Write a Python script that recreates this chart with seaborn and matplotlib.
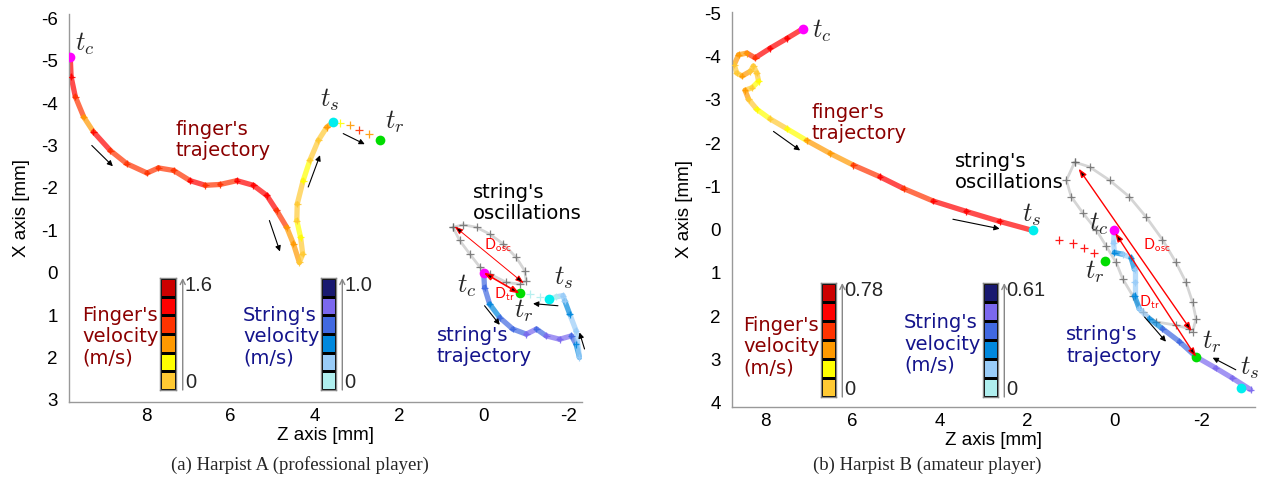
import numpy as np
import pandas as pd
import matplotlib
matplotlib.use('Agg')
import matplotlib.pyplot as plt
from matplotlib.colors import ListedColormap
import seaborn as sns

sns.set_theme(style='white')
plt.rcParams['font.family'] = ['Liberation Sans', 'DejaVu Sans']
plt.rcParams['mathtext.fontset'] = 'cm'

FINGER_COLORS = ['#FFC933', '#FFFF00', '#FF9900', '#FF3300', '#FF0000', '#CC0000']
STRING_COLORS = ['#AFEEEE', '#99CCF8', '#0088DD', '#4169E1', '#7B68EE', '#191970']

# ---------------- Harpist A ----------------
a_finger_z = [9.80, 9.78, 9.68, 9.48, 9.25, 8.85, 8.46, 7.98, 7.71, 7.35, 6.96, 6.60, 6.25, 5.85,
              5.46, 5.14, 4.91, 4.67, 4.51, 4.37, 4.29, 4.34, 4.43, 4.42, 4.28, 4.12, 3.92, 3.72, 3.57]
a_finger_x = [-5.08, -4.62, -4.15, -3.67, -3.32, -2.88, -2.57, -2.35, -2.47, -2.41, -2.17, -2.06, -2.08, -2.17,
              -2.06, -1.82, -1.47, -1.07, -0.68, -0.24, -0.44, -0.83, -1.23, -1.62, -2.17, -2.65, -3.12, -3.43, -3.55]
a_finger_v = [4, 4, 3, 2, 4, 3, 3, 3, 3, 3, 4, 3, 3, 4, 4, 4, 3, 2, 2, 0, 0, 1, 0, 0, 1, 0, 0, 2, 3]
a_finger_post_z = [3.41, 3.17, 2.96, 2.72]
a_finger_post_x = [-3.53, -3.48, -3.36, -3.26]
a_finger_post_v = [1, 2, 3, 2]
a_string_z = [0.0, -0.02, -0.14, -0.38, -0.69, -1.01, -1.25, -1.48, -1.80, -2.08, -2.19, -2.27,
              -2.19, -2.04, -1.92, -1.88, -1.72, -1.55]
a_string_x = [0.0, 0.35, 0.74, 1.06, 1.33, 1.45, 1.33, 1.49, 1.57, 1.49, 1.69, 2.00,
              1.37, 0.98, 0.66, 0.54, 0.57, 0.62]
a_string_v = [3, 3, 2, 3, 3, 4, 3, 4, 4, 3, 2, 1, 1, 2, 1, 1, 0, 0]
a_string_post_z = [-1.33, -1.09]
a_string_post_x = [0.58, 0.50]
a_string_post_v = [0, 0]
a_osc_z = [0.73, 0.57, 0.33, 0.09, -0.14, -0.54, -0.85, -1.01, -0.97, -0.77, -0.46, -0.14, 0.17, 0.49, 0.73]
a_osc_x = [-1.07, -0.76, -0.44, -0.13, 0.03, 0.23, 0.27, 0.19, -0.05, -0.36, -0.68, -0.91, -1.07, -1.13, -1.07]
a_finger_events = {'tc': (9.80, -5.08), 'ts': (3.57, -3.55), 'tr': (2.46, -3.12)}
a_string_events = {'tc': (0.0, 0.0), 'ts': (-1.55, 0.62), 'tr': (-0.85, 0.49)}
a_osc_span = [(0.69, -1.09), (-0.95, 0.25)]
a_vmax = ['1.6', '1.0']

# ---------------- Harpist B ----------------
b_finger_z = [7.14, 7.50, 7.89, 8.23, 8.42, 8.61, 8.71, 8.65, 8.53, 8.34, 8.27, 8.19, 8.15, 8.30,
              8.46, 8.38, 8.19, 7.89, 7.50, 7.05, 6.51, 5.98, 5.37, 4.83, 4.15, 3.39, 2.63, 1.87]
b_finger_x = [-4.64, -4.42, -4.19, -3.97, -4.08, -4.04, -3.81, -3.62, -3.55, -3.66, -3.78, -3.62, -3.43, -3.28,
              -3.22, -3.01, -2.78, -2.56, -2.33, -2.06, -1.76, -1.49, -1.22, -0.95, -0.66, -0.42, -0.19, 0.02]
b_finger_v = [4, 4, 4, 3, 2, 2, 0, 0, 2, 0, 0, 0, 1, 0, 2, 0, 1, 0, 1, 2, 2, 3, 4, 3, 4, 4, 4, 4]
b_finger_post_z = [1.26, 0.95, 0.69, 0.46]
b_finger_post_x = [0.23, 0.32, 0.42, 0.55]
b_finger_post_v = [4, 4, 4, 4]
b_string_z = [0.0, 0.02, 0.0, -0.19, -0.38, -0.46, -0.46, -0.46, -0.57, -0.80, -1.10, -1.49, -1.87, -2.32, -2.70, -3.12]
b_string_x = [0.0, 0.30, 0.53, 0.57, 0.65, 0.92, 1.22, 1.53, 1.83, 2.06, 2.29, 2.59, 2.94, 3.20, 3.43, 3.70]
b_string_v = [1, 1, 2, 1, 2, 1, 1, 2, 1, 2, 3, 3, 4, 4, 4, 4]
b_osc_z = [0.91, 1.10, 0.99, 0.72, 0.42, 0.19, -0.04, -0.19, -0.42, -0.65, -0.95, -1.41, -1.71, -1.79,
           -1.87, -1.79, -1.64, -1.41, -1.10, -0.72, -0.34, 0.11, 0.57, 0.91]
b_osc_x = [-1.56, -1.14, -0.76, -0.38, 0.0, 0.38, 0.76, 1.14, 1.53, 1.91, 2.13, 2.21, 2.29, 2.36,
           2.06, 1.68, 1.22, 0.76, 0.23, -0.30, -0.76, -1.14, -1.45, -1.56]
b_finger_events = {'tc': (7.14, -4.64), 'ts': (1.87, 0.02), 'tr': (0.21, 0.73)}
b_string_events = {'tc': (0.0, 0.0), 'ts': (-2.90, 3.65), 'tr': (-1.87, 2.94)}
b_osc_span = [(0.82, -1.41), (-1.77, 2.35)]
b_vmax = ['0.78', '0.61']

EVENT_COLORS = {'tc': '#FF00FF', 'ts': '#00EEEE', 'tr': '#00DD00'}
DARKRED = '#8B0000'
NAVY = '#14148C'

W, H = 1282, 484
fig = plt.figure(figsize=(W / 100, H / 100), dpi=100)


def fx(px):
    return px / W


def fy(py):
    return 1 - py / H


def traj(ax, z, x, v, colors, line=True):
    if len(z) == 0:
        return
    if line:
        for i in range(len(z) - 1):
            ax.plot(z[i:i + 2], x[i:i + 2], color=colors[v[i]], lw=3.8, alpha=0.7,
                    solid_capstyle='round', zorder=2)
    df = pd.DataFrame({'z': z, 'x': x, 'v': v})
    sns.scatterplot(data=df, x='z', y='x', hue='v', palette={k: colors[k] for k in set(v)},
                    marker='+', s=24 if line else 34, linewidth=0.9, alpha=0.9, legend=False,
                    ax=ax, zorder=3)


def osc(ax, z, x):
    ax.plot(z, x, color='#888888', lw=2.0, alpha=0.35, zorder=1)
    sns.scatterplot(x=z, y=x, color='#666666', marker='+', s=34, linewidth=0.9,
                    alpha=0.8, legend=False, ax=ax, zorder=1)


def events(ax, ev):
    for k, (z, x) in ev.items():
        ax.plot([z], [x], 'o', ms=7, color=EVENT_COLORS[k], mec='none', zorder=5)


def arrow(ax, p0, p1):
    ax.annotate('', xy=p1, xytext=p0, xycoords='data',
                arrowprops=dict(arrowstyle='-|>', color='black', lw=0.8, mutation_scale=8,
                                shrinkA=0, shrinkB=0), zorder=6)


def dspan(ax, p0, p1, lw):
    ax.annotate('', xy=p1, xytext=p0, xycoords='data',
                arrowprops=dict(arrowstyle='<|-|>,head_length=0.5,head_width=0.18',
                                fc='black', ec='red', lw=lw, mutation_scale=10,
                                shrinkA=0, shrinkB=0), zorder=6)


def tlabel(ax, z, x, s):
    ax.text(z, x, s, fontsize=19, ha='center', va='center', zorder=7)


def style_axes(ax, xlim, ylim, xticks, yticks):
    ax.set_xlim(*xlim)
    ax.set_ylim(*ylim)
    ax.set_xticks(xticks)
    ax.set_yticks(yticks)
    ax.set_xticklabels([f'{t:g}' for t in xticks])
    ax.set_yticklabels([f'{t:g}' for t in yticks])
    for s in ['top', 'right']:
        ax.spines[s].set_visible(False)
    for s in ['left', 'bottom']:
        ax.spines[s].set_color('#999999')
        ax.spines[s].set_linewidth(1.0)
    ax.tick_params(direction='in', length=4, width=0.8, color='#999999', labelsize=13.5,
                   labelcolor='black')
    ax.tick_params(axis='y', pad=8)
    ax.tick_params(axis='x', pad=4)
    ax.set_xlabel('Z axis [mm]', fontsize=13.5, labelpad=2, color='black')
    ax.set_ylabel('X axis [mm]', fontsize=13.5, labelpad=8, color='black')
    ax.set_facecolor('white')


def cbar(x0, y0, x1, y1, colors, vmax):
    cax = fig.add_axes([fx(x0), fy(y1), fx(x1 - x0), (y1 - y0) / H])
    data = np.arange(len(colors))[::-1].reshape(-1, 1)
    sns.heatmap(data, cmap=ListedColormap(colors), vmin=-0.5, vmax=len(colors) - 0.5,
                cbar=False, linewidths=1.0, linecolor='black',
                xticklabels=False, yticklabels=False, ax=cax)
    for s in cax.spines.values():
        s.set_visible(True)
        s.set_color('#888888')
        s.set_linewidth(1.0)
    cax.annotate('', xy=(1.42, 1.0), xytext=(1.42, 0.0), xycoords='axes fraction',
                 arrowprops=dict(arrowstyle='->', color='#888888', lw=1.0, mutation_scale=9,
                                 shrinkA=0, shrinkB=0), annotation_clip=False)
    cax.text(1.55, 0.93, vmax, transform=cax.transAxes, fontsize=14.5, ha='left', va='center')
    cax.text(1.55, 0.07, '0', transform=cax.transAxes, fontsize=14.5, ha='left', va='center')


ann = dict(fontsize=14, family='DejaVu Sans', ha='left', va='center', linespacing=1.15)

# ======================= panel (a) =======================
axa = fig.add_axes([fx(69), fy(402), fx(582 - 69), (402 - 14) / H])
style_axes(axa, (9.83, -2.33), (3.05, -6.1), [8, 6, 4, 2, 0, -2], list(range(-6, 4)))
osc(axa, a_osc_z, a_osc_x)
traj(axa, a_finger_z, a_finger_x, a_finger_v, FINGER_COLORS)
traj(axa, a_finger_post_z, a_finger_post_x, a_finger_post_v, FINGER_COLORS, line=False)
traj(axa, a_string_z, a_string_x, a_string_v, STRING_COLORS)
traj(axa, a_string_post_z, a_string_post_x, a_string_post_v, STRING_COLORS, line=False)
events(axa, a_finger_events)
events(axa, a_string_events)
dspan(axa, a_osc_span[0], a_osc_span[1], 0.7)
dspan(axa, a_string_events['tc'], a_string_events['tr'], 1.2)
for p0, p1 in [((9.29, -3.00), (8.79, -2.51)), ((5.08, -1.23), (4.83, -0.50)),
               ((4.16, -2.02), (3.88, -2.77)), ((3.33, -3.28), (2.82, -3.03)),
               ((-0.02, 0.78), (-0.38, 1.23)), ((-1.76, 0.78), (-1.17, 0.73)),
               ((-2.39, 1.80), (-2.27, 1.41))]:
    arrow(axa, p0, p1)
tlabel(axa, 9.45, -5.40, r'$t_c$')
tlabel(axa, 3.64, -4.07, r'$t_s$')
tlabel(axa, 2.12, -3.57, r'$t_r$')
tlabel(axa, 0.40, 0.31, r'$t_c$')
tlabel(axa, -0.95, 0.90, r'$t_r$')
tlabel(axa, -1.90, 0.12, r'$t_s$')
axa.text(-0.33, -0.66, r'$\mathsf{D_{osc}}$', color='red', fontsize=11, ha='center', va='center')
axa.text(-0.50, 0.50, r'$\mathsf{D_{tr}}$', color='red', fontsize=11, ha='center', va='center')
axa.text(7.31, -3.12, "finger's\ntrajectory", color=DARKRED, **ann)
axa.text(0.26, -1.65, "string's\noscillations", color='black', **ann)
axa.text(1.11, 1.73, "string's\ntrajectory", color=NAVY, **ann)

cbar(160, 278, 176, 390, FINGER_COLORS, a_vmax[0])
cbar(321, 278, 336, 390, STRING_COLORS, a_vmax[1])
fig.text(fx(82), fy(337), "Finger's\nvelocity\n(m/s)", color=DARKRED, **ann)
fig.text(fx(243), fy(337), "String's\nvelocity\n(m/s)", color=NAVY, **ann)

# ======================= panel (b) =======================
axb = fig.add_axes([fx(732), fy(407), fx(1255 - 732), (407 - 12) / H])
style_axes(axb, (8.76, -3.22), (4.1, -5.03), [8, 6, 4, 2, 0, -2], list(range(-5, 5)))
osc(axb, b_osc_z, b_osc_x)
traj(axb, b_finger_z, b_finger_x, b_finger_v, FINGER_COLORS)
traj(axb, b_finger_post_z, b_finger_post_x, b_finger_post_v, FINGER_COLORS, line=False)
traj(axb, b_string_z, b_string_x, b_string_v, STRING_COLORS)
events(axb, b_finger_events)
events(axb, b_string_events)
dspan(axb, b_osc_span[0], b_osc_span[1], 1.0)
dspan(axb, (-0.02, 0.08), b_string_events['tr'], 1.0)
for p0, p1 in [((7.81, -2.27), (7.20, -1.83)), ((3.70, -0.24), (2.63, -0.02)),
               ((-0.69, 2.02), (-1.18, 2.59)), ((-2.78, 3.24), (-2.25, 2.96))]:
    arrow(axb, p0, p1)
tlabel(axb, 6.70, -4.60, r'$t_c$')
tlabel(axb, 1.90, -0.34, r'$t_s$')
tlabel(axb, 0.46, 0.98, r'$t_r$')
tlabel(axb, 0.37, -0.14, r'$t_c$')
tlabel(axb, -2.24, 2.59, r'$t_r$')
tlabel(axb, -3.09, 3.20, r'$t_s$')
axb.text(-0.96, 0.37, r'$\mathsf{D_{osc}}$', color='red', fontsize=11, ha='center', va='center')
axb.text(-0.80, 1.67, r'$\mathsf{D_{tr}}$', color='red', fontsize=11, ha='center', va='center')
axb.text(6.93, -2.47, "finger's\ntrajectory", color=DARKRED, **ann)
axb.text(3.66, -1.33, "string's\noscillations", color='black', **ann)
axb.text(1.10, 2.68, "string's\ntrajectory", color=NAVY, **ann)

cbar(821, 283, 836, 397, FINGER_COLORS, b_vmax[0])
cbar(983, 283, 998, 397, STRING_COLORS, b_vmax[1])
fig.text(fx(743), fy(347), "Finger's\nvelocity\n(m/s)", color=DARKRED, **ann)
fig.text(fx(904), fy(344), "String's\nvelocity\n(m/s)", color=NAVY, **ann)

# captions
fig.text(fx(300), fy(465), '(a) Harpist A (professional player)', family='Liberation Serif',
         fontsize=13.5, ha='center', va='center')
fig.text(fx(927), fy(465), '(b) Harpist B (amateur player)', family='Liberation Serif',
         fontsize=13.5, ha='center', va='center')

fig.savefig('out.png', dpi=100, facecolor='white')
